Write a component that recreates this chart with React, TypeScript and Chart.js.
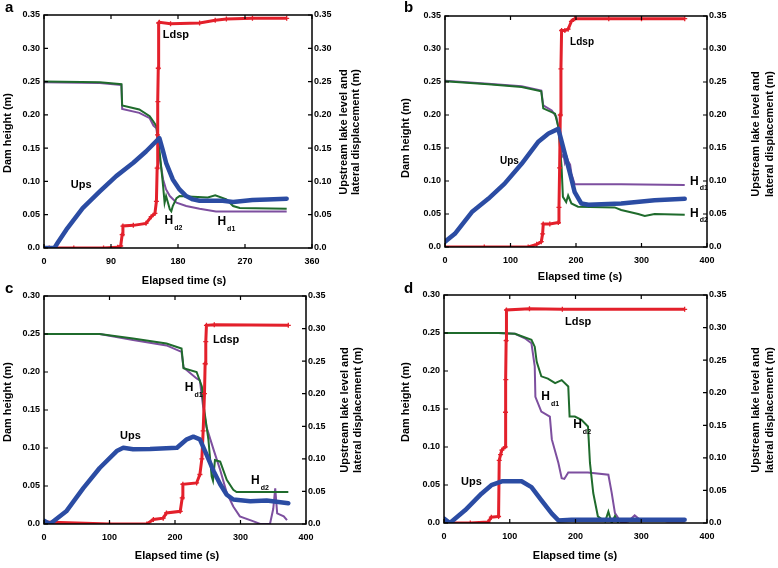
import React, { useEffect, useRef } from 'react';
import { Chart, registerables } from 'chart.js';
Chart.register(...registerables);

const FONT = '"Liberation Sans", Arial, Helvetica, sans-serif';

// ---------- Panel a ----------
const A_LDSP_T = [7, 40, 80, 99, 103, 105, 106, 120, 137, 144, 149, 151, 152, 152.5, 153, 153.5, 154, 155, 170, 209, 230, 245, 280, 326];
const A_LDSP_V = [0, 0, 0, 0.001, 0.003, 0.02, 0.033, 0.034, 0.037, 0.047, 0.052, 0.07, 0.12, 0.17, 0.22, 0.27, 0.338, 0.339, 0.337, 0.338, 0.342, 0.344, 0.345, 0.345];
const A_UPS_T = [0, 14, 19, 30, 52, 75, 97, 120, 137, 153, 155, 160, 164, 173, 182, 191, 200, 209, 240, 254, 280, 300, 326];
const A_UPS_V = [0, 0, 0.009, 0.0275, 0.06, 0.085, 0.108, 0.128, 0.145, 0.163, 0.165, 0.145, 0.128, 0.103, 0.088, 0.078, 0.073, 0.071, 0.071, 0.069, 0.072, 0.073, 0.074];
const A_HD1_T = [0, 75, 104, 105, 128, 142, 147, 151, 155, 160, 164, 169, 178, 191, 209, 231, 326];
const A_HD1_V = [0.249, 0.248, 0.245, 0.209, 0.203, 0.195, 0.184, 0.18, 0.138, 0.103, 0.088, 0.078, 0.068, 0.063, 0.059, 0.055, 0.055];
const A_HD2_T = [0, 75, 104, 105, 128, 142, 147, 151, 155, 160, 162, 164, 169, 171, 173, 178, 182, 200, 220, 230, 245, 254, 263, 326];
const A_HD2_V = [0.25, 0.249, 0.246, 0.214, 0.208, 0.198, 0.19, 0.183, 0.148, 0.093, 0.068, 0.078, 0.058, 0.055, 0.063, 0.075, 0.078, 0.077, 0.076, 0.079, 0.073, 0.063, 0.06, 0.059];

// ---------- Panel b ----------
const B_LDSP_T = [0, 60, 127, 140, 147, 149, 150, 160, 173, 174, 175, 176, 177, 178, 183, 188, 193, 198, 250, 300, 366];
const B_LDSP_V = [0, 0, 0, 0.004, 0.008, 0.02, 0.035, 0.035, 0.037, 0.06, 0.12, 0.2, 0.27, 0.328, 0.328, 0.33, 0.342, 0.346, 0.346, 0.346, 0.346];
const B_UPS_T = [0, 15, 41, 66, 91, 117, 142, 158, 173, 183, 191, 198, 208, 219, 269, 320, 366];
const B_UPS_V = [0.008, 0.02, 0.053, 0.073, 0.096, 0.126, 0.159, 0.172, 0.179, 0.141, 0.111, 0.083, 0.066, 0.064, 0.066, 0.071, 0.073];
const B_HD1_T = [0, 66, 117, 147, 150, 163, 170, 175, 178, 181, 183, 186, 188, 191, 193, 198, 269, 366];
const B_HD1_V = [0.252, 0.2475, 0.2435, 0.237, 0.2146, 0.207, 0.197, 0.172, 0.136, 0.14, 0.128, 0.136, 0.13, 0.125, 0.111, 0.095, 0.095, 0.094];
const B_HD2_T = [0, 66, 117, 147, 150, 168, 173, 178, 180, 185, 188, 193, 203, 259, 269, 295, 305, 320, 366];
const B_HD2_V = [0.251, 0.2465, 0.2425, 0.236, 0.21, 0.202, 0.182, 0.121, 0.076, 0.068, 0.078, 0.066, 0.061, 0.06, 0.056, 0.05, 0.047, 0.05, 0.049];

// ---------- Panel c ----------
const C_LDSP_T = [0, 100, 157, 167, 182, 187, 208, 211, 212, 233, 238, 241, 243, 245, 246, 247, 248, 260, 373];
const C_LDSP_V = [0.003, 0, 0, 0.007, 0.009, 0.017, 0.0195, 0.04, 0.061, 0.063, 0.076, 0.1, 0.143, 0.2, 0.246, 0.28, 0.305, 0.306, 0.305];
const C_UPS_T = [0, 9, 34, 60, 85, 111, 121, 136, 162, 203, 218, 228, 238, 248, 259, 269, 279, 289, 315, 340, 373];
const C_UPS_V = [0.005, 0, 0.0195, 0.055, 0.086, 0.112, 0.117, 0.1146, 0.115, 0.117, 0.13, 0.134, 0.13, 0.107, 0.081, 0.061, 0.045, 0.0375, 0.035, 0.036, 0.032];
const C_HD1_T = [0, 85, 136, 187, 210, 213, 233, 238, 243, 248, 259, 269, 279, 289, 299, 320, 330, 345, 350, 353, 356, 366, 371];
const C_HD1_V = [0.25, 0.25, 0.242, 0.235, 0.2265, 0.206, 0.1915, 0.189, 0.154, 0.128, 0.0975, 0.071, 0.041, 0.023, 0.01, 0.0035, 0, 0, 0.02, 0.047, 0.014, 0.01, 0.005];
const C_HD2_T = [0, 85, 136, 187, 210, 213, 233, 241, 244, 251, 256, 258, 261, 269, 279, 289, 294, 373];
const C_HD2_V = [0.25, 0.25, 0.244, 0.2375, 0.231, 0.205, 0.2, 0.181, 0.154, 0.111, 0.0625, 0.057, 0.084, 0.082, 0.058, 0.045, 0.042, 0.042];

// ---------- Panel d ----------
const D_LDSP_T = [0, 40, 67, 72, 83, 84, 86, 88, 93, 93.5, 94, 94.5, 95, 130, 180, 366];
const D_LDSP_V = [0, 0, 0.0015, 0.009, 0.01, 0.096, 0.105, 0.112, 0.117, 0.17, 0.22, 0.28, 0.327, 0.329, 0.328, 0.328];
const D_UPS_T = [0, 9, 32, 57, 72, 88, 118, 133, 148, 164, 174, 194, 366];
const D_UPS_V = [0.0067, 0, 0.0195, 0.045, 0.058, 0.064, 0.064, 0.055, 0.035, 0.0143, 0.004, 0.005, 0.005];
const D_HD1_T = [0, 83, 108, 123, 133, 138, 139, 148, 161, 164, 174, 179, 183, 189, 219, 250, 255, 260, 270, 280, 290, 300, 320, 340, 366];
const D_HD1_V = [0.25, 0.25, 0.249, 0.243, 0.2365, 0.206, 0.166, 0.1467, 0.14, 0.11, 0.079, 0.059, 0.058, 0.0666, 0.0666, 0.0635, 0.04, 0.013, 0, 0.002, 0.01, 0.003, 0.005, 0.002, 0.002];
const D_HD2_T = [0, 83, 108, 133, 138, 141, 148, 158, 169, 179, 189, 191, 199, 209, 219, 222, 227, 234, 245, 250, 255, 260, 265];
const D_HD2_V = [0.25, 0.25, 0.249, 0.241, 0.232, 0.212, 0.193, 0.19, 0.184, 0.188, 0.1796, 0.14, 0.14, 0.1358, 0.127, 0.079, 0.0394, 0.0088, 0.002, 0.015, 0, 0.009, 0];

// ---------- Labels ----------
const X_TITLE = 'Elapsed time (s)';
const Y_TITLE = 'Dam height (m)';
const Y2_TITLE = ['Upstream lake level and', 'lateral displacement (m)'];

const COLORS = { ldsp: '#e3202b', ups: '#2b4ca3', hd1: '#7d4f9f', hd2: '#1f6b2c' };

type Ann = { text: string; sub?: string; t: number; v: number; size: number };

const pts = (ts: number[], vs: number[]) => ts.map((t, i) => ({ x: t, y: vs[i] }));

const PANELS = [
  {
    letter: 'a', left: 0, top: 0, w: 389, h: 292,
    plot: { l: 44, r: 312, t: 15, b: 248 },
    xMax: 360, xStep: 90, yMax: 0.35,
    letterPos: [5, 12], xTitle: [184, 281], yTitle: [8, 133], y2Title: [344, 356, 132],
    series: { ldsp: [A_LDSP_T, A_LDSP_V], ups: [A_UPS_T, A_UPS_V], hd1: [A_HD1_T, A_HD1_V], hd2: [A_HD2_T, A_HD2_V] },
    anns: [
      { text: 'Ldsp', t: 159.5, v: 0.32, size: 11 },
      { text: 'Ups', t: 36, v: 0.095, size: 11 },
      { text: 'H', sub: 'd2', t: 162, v: 0.041, size: 11 },
      { text: 'H', sub: 'd1', t: 233, v: 0.0395, size: 11 },
    ] as Ann[],
  },
  {
    letter: 'b', left: 389, top: 0, w: 389, h: 292,
    plot: { l: 56, r: 318, t: 16, b: 247 },
    xMax: 400, xStep: 100, yMax: 0.35,
    letterPos: [15, 12], xTitle: [191, 277], yTitle: [17, 138], y2Title: [367, 381, 134],
    series: { ldsp: [B_LDSP_T, B_LDSP_V], ups: [B_UPS_T, B_UPS_V], hd1: [B_HD1_T, B_HD1_V], hd2: [B_HD2_T, B_HD2_V] },
    anns: [
      { text: 'Ldsp', t: 191, v: 0.31, size: 10 },
      { text: 'Ups', t: 84, v: 0.13, size: 10 },
      { text: 'H', sub: 'd1', t: 374, v: 0.0995, size: 11 },
      { text: 'H', sub: 'd2', t: 374, v: 0.051, size: 11 },
    ] as Ann[],
  },
  {
    letter: 'c', left: 0, top: 276, w: 389, h: 292,
    plot: { l: 44, r: 306, t: 20, b: 248 },
    xMax: 400, xStep: 100, yMax: 0.3,
    letterPos: [5, 17], xTitle: [177, 280], yTitle: [8, 126], y2Title: [345, 358, 134],
    series: { ldsp: [C_LDSP_T, C_LDSP_V], ups: [C_UPS_T, C_UPS_V], hd1: [C_HD1_T, C_HD1_V], hd2: [C_HD2_T, C_HD2_V] },
    anns: [
      { text: 'Ldsp', t: 258, v: 0.242, size: 11 },
      { text: 'Ups', t: 116, v: 0.116, size: 11 },
      { text: 'H', sub: 'd1', t: 215, v: 0.179, size: 11 },
      { text: 'H', sub: 'd2', t: 316, v: 0.057, size: 11 },
    ] as Ann[],
  },
  {
    letter: 'd', left: 389, top: 276, w: 389, h: 292,
    plot: { l: 55, r: 318, t: 19, b: 247 },
    xMax: 400, xStep: 100, yMax: 0.3,
    letterPos: [15, 17], xTitle: [186, 280], yTitle: [17, 126], y2Title: [367, 381, 134],
    series: { ldsp: [D_LDSP_T, D_LDSP_V], ups: [D_UPS_T, D_UPS_V], hd1: [D_HD1_T, D_HD1_V], hd2: [D_HD2_T, D_HD2_V] },
    anns: [
      { text: 'Ldsp', t: 184, v: 0.2645, size: 11 },
      { text: 'Ups', t: 26, v: 0.0546, size: 11 },
      { text: 'H', sub: 'd1', t: 148, v: 0.166, size: 11 },
      { text: 'H', sub: 'd2', t: 196.5, v: 0.129, size: 11 },
    ] as Ann[],
  },
];

const fmt = (v: any) => {
  const n = Number(v);
  return Math.abs(n) < 1e-9 ? '0.0' : n.toFixed(2);
};

function Panel({ p }: { p: (typeof PANELS)[number] }) {
  const ref = useRef<HTMLCanvasElement>(null);
  useEffect(() => {
    const tickFont = { family: FONT, size: 9, weight: 'bold' as const };
    const decor = {
      id: 'decor',
      afterDraw(chart: any) {
        const ctx = chart.ctx as CanvasRenderingContext2D;
        const { left, right, top, bottom } = chart.chartArea;
        const xs = chart.scales.x, ys = chart.scales.y, ys2 = chart.scales.y2;
        ctx.save();
        ctx.strokeStyle = '#000';
        ctx.lineWidth = 1.5;
        ctx.strokeRect(left, top, right - left, bottom - top);
        ctx.lineWidth = 1.2;
        ctx.beginPath();
        xs.ticks.forEach((tk: any) => {
          const px = xs.getPixelForValue(tk.value);
          ctx.moveTo(px, bottom); ctx.lineTo(px, bottom - 4);
          ctx.moveTo(px, top); ctx.lineTo(px, top + 4);
        });
        ys.ticks.forEach((tk: any) => {
          const py = ys.getPixelForValue(tk.value);
          ctx.moveTo(left, py); ctx.lineTo(left + 4, py);
        });
        ys2.ticks.forEach((tk: any) => {
          const py = ys2.getPixelForValue(tk.value);
          ctx.moveTo(right, py); ctx.lineTo(right - 4, py);
        });
        ctx.stroke();

        ctx.fillStyle = '#000';
        // panel letter
        ctx.font = `bold 15px ${FONT}`;
        ctx.textAlign = 'left';
        ctx.textBaseline = 'alphabetic';
        ctx.fillText(p.letter, p.letterPos[0], p.letterPos[1]);
        // titles
        ctx.font = `bold 11px ${FONT}`;
        ctx.textAlign = 'center';
        ctx.textBaseline = 'middle';
        ctx.fillText(X_TITLE, p.xTitle[0], p.xTitle[1]);
        ctx.save();
        ctx.translate(p.yTitle[0], p.yTitle[1]);
        ctx.rotate(-Math.PI / 2);
        ctx.fillText(Y_TITLE, 0, 0);
        ctx.restore();
        ctx.save();
        ctx.translate(p.y2Title[0], p.y2Title[2]);
        ctx.rotate(-Math.PI / 2);
        ctx.fillText(Y2_TITLE[0], 0, 0);
        ctx.restore();
        ctx.save();
        ctx.translate(p.y2Title[1], p.y2Title[2]);
        ctx.rotate(-Math.PI / 2);
        ctx.fillText(Y2_TITLE[1], 0, 0);
        ctx.restore();
        // annotations
        ctx.textAlign = 'left';
        p.anns.forEach((a) => {
          const px = xs.getPixelForValue(a.t);
          const py = ys.getPixelForValue(a.v);
          ctx.font = `bold ${a.size + (a.sub ? 1 : 0)}px ${FONT}`;
          ctx.textBaseline = 'middle';
          ctx.fillText(a.text, px, py);
          if (a.sub) {
            const w = ctx.measureText(a.text).width;
            ctx.font = `bold 7px ${FONT}`;
            ctx.fillText(a.sub, px + w + 1, py + 7);
          }
        });
        ctx.restore();
      },
    };

    const s = p.series as any;
    const chart = new Chart(ref.current as HTMLCanvasElement, {
      type: 'line',
      data: {
        datasets: [
          {
            label: 'Ups', data: pts(s.ups[0], s.ups[1]), yAxisID: 'y2', order: 0,
            borderColor: COLORS.ups, borderWidth: 4.5, pointRadius: 0, tension: 0,
            borderJoinStyle: 'round', borderCapStyle: 'round',
          },
          {
            label: 'Ldsp', data: pts(s.ldsp[0], s.ldsp[1]), yAxisID: 'y2', order: 1,
            borderColor: COLORS.ldsp, borderWidth: 3, pointStyle: 'cross', pointRadius: 2.5,
            pointBorderColor: COLORS.ldsp, pointBorderWidth: 1.3, tension: 0,
          },
          {
            label: 'Hd2', data: pts(s.hd2[0], s.hd2[1]), yAxisID: 'y', order: 2,
            borderColor: COLORS.hd2, borderWidth: 2, pointRadius: 0, tension: 0,
          },
          {
            label: 'Hd1', data: pts(s.hd1[0], s.hd1[1]), yAxisID: 'y', order: 3,
            borderColor: COLORS.hd1, borderWidth: 2, pointRadius: 0, tension: 0,
          },
        ] as any,
      },
      options: {
        animation: false,
        responsive: false,
        maintainAspectRatio: false,
        layout: { padding: { top: p.plot.t, left: 0, right: 0, bottom: 0 } },
        plugins: { legend: { display: false }, tooltip: { enabled: false } },
        scales: {
          x: {
            type: 'linear', position: 'bottom', min: 0, max: p.xMax,
            grid: { display: false, drawTicks: false }, border: { display: false },
            ticks: { stepSize: p.xStep, font: tickFont, color: '#000', padding: 8, maxRotation: 0, autoSkip: false },
            afterFit: (sc: any) => { sc.height = p.h - p.plot.b; },
          },
          y: {
            type: 'linear', position: 'left', min: 0, max: p.yMax,
            grid: { display: false, drawTicks: false }, border: { display: false },
            ticks: { stepSize: 0.05, font: tickFont, color: '#000', padding: 4, callback: fmt, autoSkip: false },
            afterFit: (sc: any) => { sc.width = p.plot.l; },
          },
          y2: {
            type: 'linear', position: 'right', min: 0, max: 0.35,
            grid: { display: false, drawTicks: false }, border: { display: false },
            ticks: { stepSize: 0.05, font: tickFont, color: '#000', padding: 2, callback: fmt, autoSkip: false },
            afterFit: (sc: any) => { sc.width = p.w - p.plot.r; },
          },
        } as any,
      },
      plugins: [decor],
    });
    return () => chart.destroy();
  }, []);
  return (
    <canvas
      ref={ref}
      width={p.w}
      height={p.h}
      style={{ position: 'absolute', left: p.left, top: p.top, width: p.w, height: p.h }}
    />
  );
}

export default function App() {
  return (
    <div style={{ position: 'absolute', left: 0, top: 0, width: 778, height: 568, background: '#fff' }}>
      {PANELS.map((p) => (
        <Panel key={p.letter} p={p} />
      ))}
    </div>
  );
}
